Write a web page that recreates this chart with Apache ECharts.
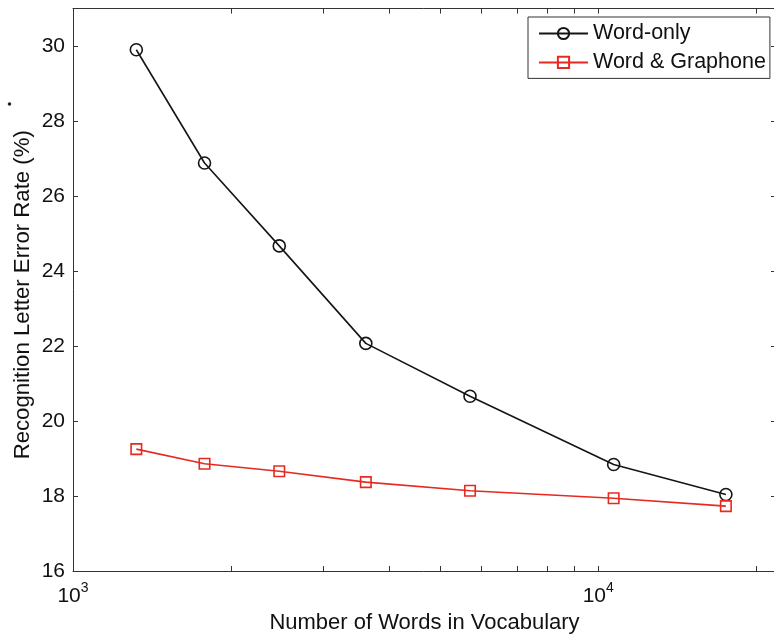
<!DOCTYPE html>
<html>
<head>
<meta charset="utf-8">
<script src="https://cdn.jsdelivr.net/npm/echarts@6/dist/echarts.min.js"></script>
<style>
  html, body { margin: 0; padding: 0; background: #fff; }
  #main { width: 774px; height: 635px; }
</style>
</head>
<body>
<div id="main"></div>
<script>
// vocabulary sizes (x, log scale)
var vocabSize = [1320, 1780, 2470, 3610, 5700, 10700, 17500];
var wordOnly = [29.9, 26.88, 24.67, 22.07, 20.66, 18.84, 18.04];
var wordGraphone = [19.25, 18.86, 18.66, 18.37, 18.14, 17.94, 17.73];

var seriesNames = ["Word-only", "Word & Graphone"];
var xLabelTicks = [1000, 10000];
var xMinorTicks = [1000, 2000, 3000, 4000, 5000, 6000, 7000, 8000, 9000, 10000, 20000];
var yTicks = [16, 18, 20, 22, 24, 26, 28, 30];

var FONT = "'Liberation Sans', Arial, Helvetica, sans-serif";
var AXIS_COLOR = "#333";

function pairs(xs, ys) {
  return xs.map(function (x, i) { return [x, ys[i]]; });
}

var myChart = echarts.init(document.getElementById("main"));

var xAxisBase = {
  type: "log",
  logBase: 10,
  min: 1000,
  max: 21800,
  splitLine: { show: false },
  axisLine: { show: true, lineStyle: { color: AXIS_COLOR, width: 1 } },
  axisTick: {
    show: true,
    inside: true,
    length: 5,
    customValues: xMinorTicks,
    lineStyle: { color: AXIS_COLOR }
  }
};

var yAxisBase = {
  type: "value",
  min: 16,
  max: 31,
  interval: 2,
  splitLine: { show: false },
  axisLine: { show: true, lineStyle: { color: AXIS_COLOR, width: 1 } },
  axisTick: {
    show: true,
    inside: true,
    length: 5,
    customValues: yTicks,
    lineStyle: { color: AXIS_COLOR }
  }
};

myChart.setOption({
  backgroundColor: "#fff",
  animation: false,
  textStyle: { fontFamily: FONT },
  grid: {
    left: 73, top: 8.5, width: 703, height: 562.5,
    containLabel: false,
    outerBoundsMode: "none"
  },
  legend: {
    orient: "vertical",
    left: 528,
    top: 17,
    padding: [5.5, 4, 5, 10],
    itemWidth: 49,
    itemHeight: 14,
    itemGap: 6.9,
    borderColor: AXIS_COLOR,
    borderWidth: 1,
    backgroundColor: "#fff",
    textStyle: { fontSize: 21.5, color: "#111", fontFamily: FONT },
    data: seriesNames
  },
  xAxis: [
    Object.assign({}, xAxisBase, {
      position: "bottom",
      name: "Number of Words in Vocabulary",
      nameLocation: "middle",
      nameGap: 36,
      nameTextStyle: { fontSize: 22, color: "#111", fontFamily: FONT },
      axisLabel: {
        show: true,
        margin: 10,
        customValues: xLabelTicks,
        formatter: function (v) {
          return "{b|10}{s|" + Math.round(Math.log10(v)) + "}";
        },
        rich: {
          b: { fontSize: 21, color: "#111", fontFamily: FONT, verticalAlign: "bottom", lineHeight: 26 },
          s: { fontSize: 14, color: "#111", fontFamily: FONT, verticalAlign: "top" }
        }
      }
    }),
    Object.assign({}, xAxisBase, {
      position: "top",
      axisLabel: { show: false }
    })
  ],
  yAxis: [
    Object.assign({}, yAxisBase, {
      position: "left",
      name: "Recognition Letter Error Rate (%)",
      nameLocation: "middle",
      nameGap: 39,
      nameMoveOverlap: false,
      nameRotate: 90,
      nameTextStyle: { fontSize: 22.2, color: "#111", fontFamily: FONT, padding: [0, 10, 0, 0] },
      axisLabel: {
        show: true,
        margin: 8,
        customValues: yTicks,
        fontSize: 21,
        color: "#111",
        fontFamily: FONT
      }
    }),
    Object.assign({}, yAxisBase, {
      position: "right",
      axisLabel: { show: false }
    })
  ],
  graphic: [
    { type: "circle", shape: { cx: 9.5, cy: 104, r: 1.8 }, style: { fill: "#222" } }
  ],
  series: [
    {
      name: seriesNames[0],
      type: "line",
      xAxisIndex: 0,
      yAxisIndex: 0,
      data: pairs(vocabSize, wordOnly),
      symbol: "circle",
      symbolSize: 12,
      lineStyle: { color: "#151515", width: 1.6 },
      itemStyle: { color: "rgba(255,255,255,0)", borderColor: "#151515", borderWidth: 1.6 },
      emphasis: { disabled: true }
    },
    {
      name: seriesNames[1],
      type: "line",
      xAxisIndex: 0,
      yAxisIndex: 0,
      data: pairs(vocabSize, wordGraphone),
      symbol: "rect",
      symbolSize: 10.5,
      lineStyle: { color: "#e62a1f", width: 1.6 },
      itemStyle: { color: "rgba(255,255,255,0)", borderColor: "#e62a1f", borderWidth: 1.6 },
      emphasis: { disabled: true }
    }
  ]
});
</script>
</body>
</html>
